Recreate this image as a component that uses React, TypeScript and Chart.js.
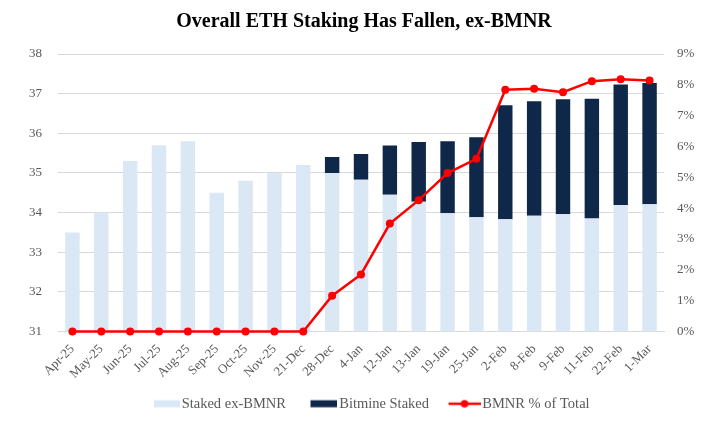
import React, { useEffect, useRef } from "react";
import { Chart, registerables } from "chart.js";
Chart.register(...registerables);

const categories = ["Apr-25","May-25","Jun-25","Jul-25","Aug-25","Sep-25","Oct-25","Nov-25","21-Dec","28-Dec","4-Jan","12-Jan","13-Jan","19-Jan","25-Jan","2-Feb","8-Feb","9-Feb","11-Feb","22-Feb","1-Mar"];
const stakedExBmnr = [33.5,34.0,35.3,35.7,35.8,34.5,34.8,35.0,35.2,35.0,34.83,34.45,34.27,33.98,33.88,33.83,33.92,33.96,33.85,34.19,34.21];
const bitmineStaked = [null,null,null,null,null,null,null,null,null,0.4,0.65,1.24,1.51,1.82,2.02,2.88,2.89,2.9,3.02,3.04,3.06];
const bmnrPct = [0,0,0,0,0,0,0,0,0,1.16,1.85,3.5,4.26,5.14,5.6,7.84,7.87,7.76,8.12,8.18,8.14];
const leftTicks = [31, 38, 1];
const rightTicks = [0, 9, 1];

const LIGHT = "#dae7f5";
const NAVY = "#0f284a";
const RED = "#ff0000";
const GRID = "#d9d9d9";
const TXT = "#595959";
const FONT = "'Liberation Serif', 'DejaVu Serif', serif";

const LEG_FS = 14.5;
const BOXW = 36;

function makeSwatch(kind: string, sw: number) {
  const W = Math.round(2 * (BOXW + LEG_FS / 2 - 2) - BOXW);
  const H = 14;
  const c = document.createElement("canvas");
  c.width = W;
  c.height = H;
  const ctx = c.getContext("2d")!;
  const x0 = W - sw;
  if (kind === "line") {
    ctx.strokeStyle = RED;
    ctx.lineWidth = 2.5;
    ctx.beginPath();
    ctx.moveTo(x0, H / 2);
    ctx.lineTo(W, H / 2);
    ctx.stroke();
    ctx.fillStyle = RED;
    ctx.beginPath();
    ctx.arc(x0 + sw / 2, H / 2, 3.8, 0, Math.PI * 2);
    ctx.fill();
  } else {
    ctx.fillStyle = kind === "light" ? LIGHT : NAVY;
    ctx.fillRect(x0, H / 2 - 3.5, sw, 7);
  }
  return c;
}

export default function App() {
  const ref = useRef<HTMLCanvasElement>(null);
  useEffect(() => {
    document.body.style.margin = "0";
    const swatches = [makeSwatch("light", 26), makeSwatch("navy", 27), makeSwatch("line", 32)];
    const names = ["Staked ex-BMNR", "Bitmine Staked", "BMNR % of Total"];
    const chart = new Chart(ref.current!, {
      type: "bar",
      data: {
        labels: categories,
        datasets: [
          {
            type: "bar",
            label: names[0],
            data: stakedExBmnr,
            backgroundColor: LIGHT,
            barPercentage: 0.5,
            categoryPercentage: 1.0,
            yAxisID: "y",
            order: 1,
          },
          {
            type: "bar",
            label: names[1],
            data: bitmineStaked as any,
            backgroundColor: NAVY,
            barPercentage: 0.5,
            categoryPercentage: 1.0,
            yAxisID: "y",
            order: 1,
          },
          {
            type: "line",
            label: names[2],
            data: bmnrPct,
            borderColor: RED,
            backgroundColor: RED,
            borderWidth: 2.5,
            pointRadius: 4,
            pointBackgroundColor: RED,
            pointBorderWidth: 0,
            yAxisID: "y1",
            order: 0,
            clip: false,
          } as any,
        ],
      },
      options: {
        animation: false,
        responsive: true,
        maintainAspectRatio: false,
        layout: { padding: { bottom: 0 } },
        plugins: {
          tooltip: { enabled: false },
          title: {
            display: true,
            text: "Overall ETH Staking Has Fallen, ex-BMNR",
            color: "#000000",
            font: { family: FONT, size: 20, weight: "bold" },
            padding: { top: 10, bottom: 20 },
          },
          legend: {
            display: true,
            position: "bottom",
            labels: {
              usePointStyle: true,
              pointStyleWidth: BOXW,
              boxHeight: 14,
              padding: 10,
              color: TXT,
              font: { family: FONT, size: LEG_FS },
              generateLabels: () =>
                names.map((n, i) => ({
                  text: n,
                  fillStyle: "transparent",
                  strokeStyle: "transparent",
                  lineWidth: 0,
                  pointStyle: swatches[i] as any,
                  hidden: false,
                  datasetIndex: i,
                  fontColor: TXT,
                })),
            },
          },
        },
        scales: {
          x: {
            stacked: true,
            grid: { display: false },
            border: { display: true, color: GRID, width: 1 },
            ticks: {
              color: TXT,
              font: { family: FONT, size: 13 },
              minRotation: 45,
              maxRotation: 45,
              autoSkip: false,
              padding: 2,
            },
            afterFit: (s: any) => {
              s.height = 55;
            },
          },
          y: {
            stacked: true,
            position: "left",
            min: leftTicks[0],
            max: leftTicks[1],
            grid: { color: GRID, lineWidth: 1, drawTicks: false },
            border: { display: false },
            ticks: {
              stepSize: leftTicks[2],
              color: TXT,
              font: { family: FONT, size: 13 },
              padding: 16,
            },
            afterFit: (s: any) => {
              s.width = 58;
            },
          },
          y1: {
            position: "right",
            min: rightTicks[0],
            max: rightTicks[1],
            grid: { display: false, drawTicks: false },
            border: { display: false },
            ticks: {
              stepSize: rightTicks[2],
              color: TXT,
              font: { family: FONT, size: 13 },
              padding: 13,
              callback: (v: any) => `${v}%`,
            },
            afterFit: (s: any) => {
              s.width = 64;
            },
          },
        },
      },
    });
    return () => chart.destroy();
  }, []);
  return (
    <div style={{ width: 728, height: 421, position: "relative" }}>
      <canvas ref={ref} />
    </div>
  );
}
